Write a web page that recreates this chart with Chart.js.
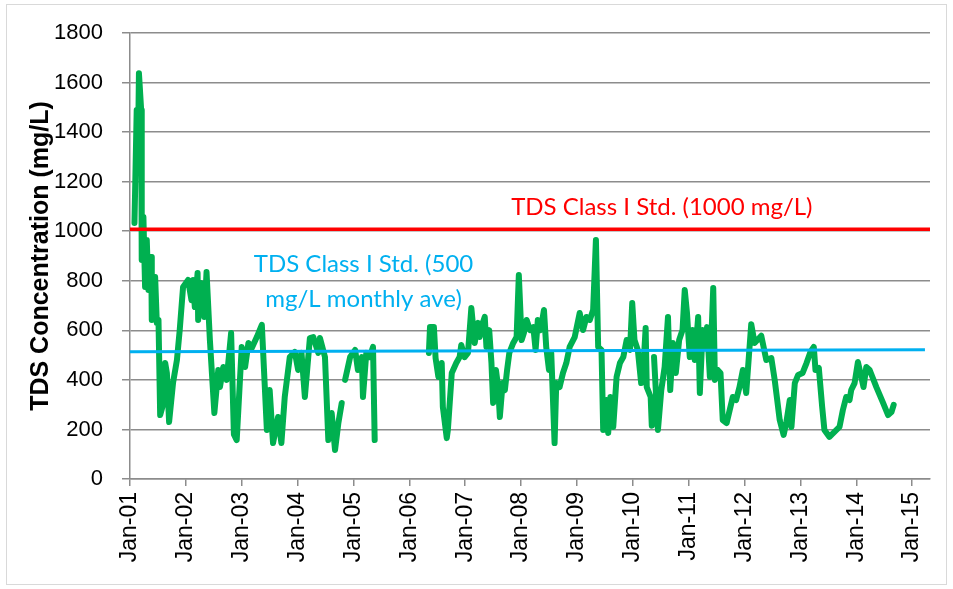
<!DOCTYPE html>
<html>
<head>
<meta charset="utf-8">
<script src="https://cdn.jsdelivr.net/npm/chart.js@4.4.1/dist/chart.umd.min.js"></script>
<style>
  html, body { margin: 0; padding: 0; background: #fff; }
  #wrap { position: relative; width: 953px; height: 589px; overflow: hidden; }
  #frame { position: absolute; left: 6px; top: 4px; width: 941px; height: 581px; border: 1px solid #d9d9d9; box-sizing: border-box; pointer-events: none; }
  canvas { position: absolute; left: 0; top: 0; }
</style>
</head>
<body>
<div id="wrap">
  <canvas id="tdsChart" width="953" height="589"></canvas>
  <div id="frame"></div>
</div>
<script>
// x values are decimal years (2001.0 = Jan-01)
const yearTicks = [2001, 2002, 2003, 2004, 2005, 2006, 2007, 2008, 2009, 2010, 2011, 2012, 2013, 2014, 2015];
const tickLabels = ['Jan-01', 'Jan-02', 'Jan-03', 'Jan-04', 'Jan-05', 'Jan-06', 'Jan-07', 'Jan-08', 'Jan-09', 'Jan-10', 'Jan-11', 'Jan-12', 'Jan-13', 'Jan-14', 'Jan-15'];

const dates = [
  2001.08, 2001.12, 2001.14, 2001.16, 2001.20, 2001.21, 2001.24, 2001.27, 2001.30, 2001.33,
  2001.38, 2001.39, 2001.45, 2001.48, 2001.51, 2001.54, 2001.58, 2001.63, 2001.66, 2001.70,
  2001.77, 2001.84, 2001.89, 2001.95, 2002.04, 2002.10, 2002.13, 2002.16, 2002.21, 2002.22,
  2002.27, 2002.33, 2002.37, 2002.43, 2002.51, 2002.58, 2002.61, 2002.67, 2002.73, 2002.81,
  2002.86, 2002.91, 2003.00, 2003.06, 2003.12, 2003.18, 2003.27, 2003.36, 2003.45, 2003.50,
  2003.56, 2003.65, 2003.71, 2003.77, 2003.86, 2003.95, 2004.01, 2004.07, 2004.13, 2004.22,
  2004.28, 2004.37, 2004.40, 2004.49, 2004.55, 2004.61, 2004.67, 2004.73, 2004.79, 2004.82,
  2004.85, 2004.94, 2005.03, 2005.08, 2005.15, 2005.17, 2005.23, 2005.29, 2005.35, 2005.38,
  2005.90,
  2006.35, 2006.37, 2006.44, 2006.47, 2006.52, 2006.58, 2006.60, 2006.67, 2006.69, 2006.76,
  2006.84, 2006.90, 2006.93, 2006.99, 2007.05, 2007.11, 2007.17, 2007.23, 2007.26, 2007.29,
  2007.35, 2007.38, 2007.43, 2007.47, 2007.50, 2007.55, 2007.59, 2007.62, 2007.67, 2007.71,
  2007.75, 2007.79, 2007.86, 2007.92, 2007.96, 2008.01, 2008.05, 2008.10, 2008.16, 2008.22,
  2008.26, 2008.30, 2008.35, 2008.41, 2008.45, 2008.50, 2008.54, 2008.60, 2008.63, 2008.69,
  2008.75, 2008.81, 2008.87, 2008.96, 2009.05, 2009.11, 2009.17, 2009.23, 2009.29, 2009.34,
  2009.38, 2009.44, 2009.47, 2009.53, 2009.56, 2009.60, 2009.65, 2009.71, 2009.77, 2009.83,
  2009.89, 2009.95, 2009.99, 2010.03, 2010.09, 2010.15, 2010.20, 2010.23, 2010.25, 2010.32,
  2010.34, 2010.36,
  2010.38, 2010.45, 2010.51, 2010.57, 2010.63, 2010.67, 2010.72, 2010.77, 2010.83, 2010.89,
  2010.93, 2010.97, 2011.02, 2011.07, 2011.11, 2011.17, 2011.20, 2011.25, 2011.29, 2011.33,
  2011.38, 2011.44, 2011.47, 2011.52, 2011.57, 2011.61, 2011.68, 2011.79, 2011.85, 2011.91,
  2011.97, 2012.03, 2012.12, 2012.18, 2012.30, 2012.39, 2012.48, 2012.54, 2012.63, 2012.70,
  2012.75, 2012.81, 2012.84, 2012.90, 2012.96, 2013.04, 2013.11, 2013.18, 2013.24, 2013.27,
  2013.33, 2013.39, 2013.43, 2013.52, 2013.61, 2013.70, 2013.76, 2013.82, 2013.88, 2013.91,
  2013.97, 2014.03, 2014.09, 2014.13, 2014.18, 2014.24, 2014.36, 2014.48, 2014.57, 2014.63,
  2014.67
];
const tds = [
  1033, 1489, 1259, 1638, 1489, 884, 1057, 775, 965, 763,
  896, 642, 815, 630, 642, 258, 291, 468, 428, 230,
  387, 480, 601, 775, 803, 722, 803, 694, 831, 642,
  791, 654, 835, 561, 266, 440, 371, 452, 400, 589,
  180, 157, 533, 452, 549, 529, 573, 622, 198, 359,
  145, 250, 145, 331, 492, 513, 440, 509, 331, 569,
  573, 509, 569, 492, 157, 266, 117, 226, 307, null,
  400, 492, 521, 440, 492, 331, 509, 492, 533, 157,
  null,
  509, 613, 613, 488, 412, 468, 291, 165, 198, 428,
  468, 492, 541, 492, 509, 690, 549, 630, 573, 613,
  654, 533, 601, 468, 307, 440, 371, 250, 387, 359,
  440, 509, 549, 573, 823, 561, 589, 642, 601, 613,
  521, 642, 601, 682, 533, 440, 509, 145, 387, 371,
  428, 468, 533, 573, 670, 601, 654, 642, 682, 965,
  533, 521, 198, 319, 186, 331, 210, 412, 468, 492,
  561, 521, 710, 561, 521, 387, 492, 609, 371, 331,
  215, null,
  492, 198, 359, 452, 654, 359, 549, 428, 561, 601,
  763, 670, 492, 601, 480, 654, 347, 601, 533, 613,
  412, 771, 400, 440, 428, 238, 226, 331, 319, 371,
  440, 347, 625, 549, 578, 480, 488, 400, 238, 178,
  230, 319, 210, 387, 420, 428, 468, 513, 533, 440,
  448, 291, 198, 170, 190, 210, 278, 331, 319, 359,
  387, 472, 412, 371, 452, 440, 371, 307, 258, 270,
  299
];

// standard lines
const stdYears = [2001, 2015.32];
const std1000 = [1008, 1008];
const aveYears = [2001, 2015.23];
const std500 = [514, 522];

// text labels (data units)
const labelTexts = ['TDS Class I Std. (1000 mg/L)', 'TDS Class I Std. (500', 'mg/L monthly ave)'];
const labelYears = [2010.52, 2005.18, 2005.18];
const labelValues = [1098, 866, 726];
const labelColors = ['#ff0000', '#00b0f0', '#00b0f0'];

const toPoints = (xs, ys) => xs.map((x, i) => ({ x: x, y: ys[i] }));
const axisFont = 'Arial, "Liberation Sans", sans-serif';

const textPlugin = {
    id: 'stdText',
    afterDatasetsDraw(chart) {
        const ctx = chart.ctx;
        const xs = chart.scales.x, ys = chart.scales.y;
        ctx.save();
        ctx.font = '24px Lato, "Open Sans", sans-serif';
        ctx.textAlign = 'center';
        ctx.textBaseline = 'middle';
        labelTexts.forEach((t, i) => {
            ctx.fillStyle = labelColors[i];
            ctx.fillText(t, xs.getPixelForValue(labelYears[i]), ys.getPixelForValue(labelValues[i]));
        });
        ctx.restore();
    }
};

new Chart(document.getElementById('tdsChart').getContext('2d'), {
    type: 'line',
    data: {
        datasets: [
            {
                label: 'TDS',
                data: toPoints(dates, tds),
                borderColor: '#00b050',
                borderWidth: 6,
                borderJoinStyle: 'round',
                borderCapStyle: 'round',
                pointRadius: 0,
                tension: 0,
                spanGaps: false,
                order: 2
            },
            {
                label: 'TDS Class I Std. (1000 mg/L)',
                data: toPoints(stdYears, std1000),
                borderColor: '#ff0000',
                borderWidth: 3.5,
                pointRadius: 0,
                order: 1
            },
            {
                label: 'TDS Class I Std. (500 mg/L monthly ave)',
                data: toPoints(aveYears, std500),
                borderColor: '#00b0f0',
                borderWidth: 3,
                pointRadius: 0,
                order: 1
            }
        ]
    },
    options: {
        responsive: false,
        animation: false,
        layout: { padding: { left: 0, top: 33, right: 23, bottom: 0 } },
        plugins: {
            legend: { display: false },
            tooltip: { enabled: false }
        },
        scales: {
            x: {
                type: 'linear',
                min: 2001,
                max: 2015.32,
                afterBuildTicks: axis => { axis.ticks = yearTicks.map(v => ({ value: v })); },
                afterFit: scale => { scale.height = 110; },
                border: { color: '#8c8c8c', width: 1.5 },
                grid: { drawOnChartArea: false, drawTicks: true, tickLength: 7, color: '#8c8c8c', lineWidth: 1.5 },
                ticks: {
                    minRotation: 90,
                    maxRotation: 90,
                    padding: 6,
                    autoSkip: false,
                    color: '#000',
                    font: { family: axisFont, size: 23 },
                    callback: v => tickLabels[yearTicks.indexOf(v)] || ''
                }
            },
            y: {
                min: 0,
                max: 1800,
                afterFit: scale => { scale.width = 130; },
                border: { color: '#8c8c8c', width: 1.5 },
                grid: { color: '#8c8c8c', lineWidth: 1.5, tickLength: 8 },
                ticks: {
                    stepSize: 200,
                    padding: 19,
                    color: '#000',
                    font: { family: axisFont, size: 22 },
                    callback: v => String(v)
                },
                title: {
                    display: true,
                    text: 'TDS Concentration (mg/L)',
                    color: '#000',
                    padding: { top: 26, bottom: 0 },
                    font: { family: axisFont, size: 25, weight: 'bold' }
                }
            }
        }
    },
    plugins: [textPlugin]
});
</script>
</body>
</html>
